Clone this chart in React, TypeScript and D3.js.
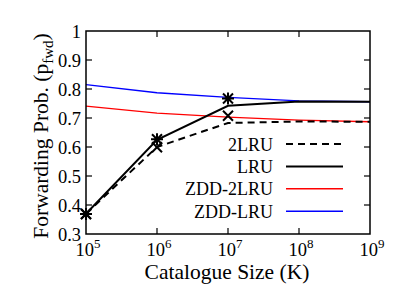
import React, { useEffect, useRef } from "react"
import * as d3 from "d3"

const WIDTH = 415
const HEIGHT = 292
const MARGIN = { top: 31, right: 45, bottom: 58, left: 86 }
const FONT = "'Liberation Serif', 'Times New Roman', Times, serif"

// catalogue sizes (K)
const sizes = [1e5, 1e6, 1e7, 1e8, 1e9]
const simSizes = [1e5, 1e6, 1e7]

// model curves
const twoLru = [0.37, 0.6, 0.683, 0.688, 0.687]
const lru = [0.37, 0.625, 0.742, 0.757, 0.756]
const zdd2Lru = [0.741, 0.717, 0.703, 0.693, 0.687]
const zddLru = [0.815, 0.787, 0.771, 0.759, 0.756]

// simulation points
const twoLruSim = [0.369, 0.599, 0.708]
const lruSim = [0.369, 0.627, 0.767]

const yTicks = [0.3, 0.4, 0.5, 0.6, 0.7, 0.8, 0.9, 1]
const yTickLabels = ["0.3", "0.4", "0.5", "0.6", "0.7", "0.8", "0.9", "1"]
const xExponents = [5, 6, 7, 8, 9]

const legendNames = ["2LRU", "LRU", "ZDD-2LRU", "ZDD-LRU"]
const legendColors = ["#000", "#000", "#ff0000", "#0000ff"]
const legendDash = ["7,5", null, null, null]

const ForwardingChart: React.FC = () => {
    const svgRef = useRef<SVGSVGElement | null>(null)

    useEffect(() => {
        if (!svgRef.current) return
        const svg = d3.select(svgRef.current)
        svg.selectAll("*").remove()

        const innerWidth = WIDTH - MARGIN.left - MARGIN.right
        const innerHeight = HEIGHT - MARGIN.top - MARGIN.bottom

        const x = d3.scaleLog().domain([1e5, 1e9]).range([0, innerWidth])
        const y = d3.scaleLinear().domain([0.3, 1]).range([innerHeight, 0])

        const chart = svg
            .append("g")
            .attr("transform", `translate(${MARGIN.left},${MARGIN.top})`)

        // ticks (inside, mirrored)
        const tickLen = 6
        yTicks.forEach((t, i) => {
            if (i === 0 || i === yTicks.length - 1) return
            chart.append("line").attr("x1", 0).attr("x2", tickLen)
                .attr("y1", y(t)).attr("y2", y(t)).attr("stroke", "#000").attr("stroke-width", 1.2)
            chart.append("line").attr("x1", innerWidth).attr("x2", innerWidth - tickLen)
                .attr("y1", y(t)).attr("y2", y(t)).attr("stroke", "#000").attr("stroke-width", 1.2)
        })
        xExponents.forEach((e, i) => {
            if (i === 0 || i === xExponents.length - 1) return
            const px = x(Math.pow(10, e))
            chart.append("line").attr("x1", px).attr("x2", px)
                .attr("y1", innerHeight).attr("y2", innerHeight - tickLen).attr("stroke", "#000").attr("stroke-width", 1.2)
            chart.append("line").attr("x1", px).attr("x2", px)
                .attr("y1", 0).attr("y2", tickLen).attr("stroke", "#000").attr("stroke-width", 1.2)
        })

        // y tick labels
        yTicks.forEach((t, i) => {
            chart.append("text")
                .attr("x", -5)
                .attr("y", y(t) + 6.5)
                .attr("text-anchor", "end")
                .attr("font-family", FONT)
                .attr("font-size", 18.5)
                .text(yTickLabels[i])
        })

        // x tick labels with exponents
        xExponents.forEach(e => {
            const px = x(Math.pow(10, e))
            const txt = chart.append("text")
                .attr("x", px + 2)
                .attr("y", innerHeight + 22)
                .attr("text-anchor", "middle")
                .attr("font-family", FONT)
                .attr("font-size", 18.5)
            txt.append("tspan").text("10")
            txt.append("tspan").attr("dy", -8).attr("font-size", 13).text(String(e))
        })

        // line series
        const line = d3.line<number>()
            .x((_, i) => x(sizes[i]))
            .y(d => y(d))

        const series = [
            { values: zdd2Lru, color: "#ff0000", width: 1.3, dash: null },
            { values: zddLru, color: "#0000ff", width: 1.3, dash: null },
            { values: twoLru, color: "#000", width: 2, dash: "7,5" },
            { values: lru, color: "#000", width: 2, dash: null },
        ]
        series.forEach(s => {
            chart.append("path")
                .attr("d", line(s.values)!)
                .attr("fill", "none")
                .attr("stroke", s.color)
                .attr("stroke-width", s.width)
                .attr("stroke-dasharray", s.dash)
        })

        // markers
        const m = 5
        twoLruSim.forEach((v, i) => {
            const cx = x(simSizes[i])
            const cy = y(v)
            chart.append("path")
                .attr("d", `M${cx - m},${cy - m}L${cx + m},${cy + m}M${cx - m},${cy + m}L${cx + m},${cy - m}`)
                .attr("stroke", "#000").attr("stroke-width", 2)
        })
        lruSim.forEach((v, i) => {
            const cx = x(simSizes[i])
            const cy = y(v)
            chart.append("path")
                .attr("d", `M${cx - m},${cy - m}L${cx + m},${cy + m}M${cx - m},${cy + m}L${cx + m},${cy - m}M${cx - m - 1},${cy}L${cx + m + 1},${cy}M${cx},${cy - m - 1}L${cx},${cy + m + 1}`)
                .attr("stroke", "#000").attr("stroke-width", 2)
        })

        // frame
        chart.append("rect")
            .attr("width", innerWidth)
            .attr("height", innerHeight)
            .attr("fill", "none")
            .attr("stroke", "#000")
            .attr("stroke-width", 1.5)

        // legend
        const legendTop = 144 - MARGIN.top
        legendNames.forEach((name, i) => {
            const ly = legendTop + i * 22.4
            chart.append("text")
                .attr("x", 273 - MARGIN.left)
                .attr("y", ly + 6.5)
                .attr("text-anchor", "end")
                .attr("font-family", FONT)
                .attr("font-size", 18)
                .text(name)
            chart.append("line")
                .attr("x1", 286 - MARGIN.left)
                .attr("x2", 343 - MARGIN.left)
                .attr("y1", ly).attr("y2", ly)
                .attr("stroke", legendColors[i])
                .attr("stroke-width", i < 2 ? 2 : 1.5)
                .attr("stroke-dasharray", legendDash[i])
        })

        // axis titles
        svg.append("text")
            .attr("x", MARGIN.left + innerWidth / 2 - 1)
            .attr("y", 279)
            .attr("text-anchor", "middle")
            .attr("font-family", FONT)
            .attr("font-size", 21.5)
            .text("Catalogue Size (K)")

        const yTitle = svg.append("text")
            .attr("transform", "translate(48,136) rotate(-90)")
            .attr("text-anchor", "middle")
            .attr("font-family", FONT)
            .attr("font-size", 21.5)
        yTitle.append("tspan").text("Forwarding Prob. (p")
        yTitle.append("tspan").attr("dy", 5).attr("font-size", 15).text("fwd")
        yTitle.append("tspan").attr("dy", -5).text(")")
    }, [])

    return (
        <svg
            ref={svgRef}
            width={WIDTH}
            height={HEIGHT}
            style={{ position: "absolute", left: 0, top: 0, background: "#fff" }}
        />
    )
}

export default ForwardingChart
